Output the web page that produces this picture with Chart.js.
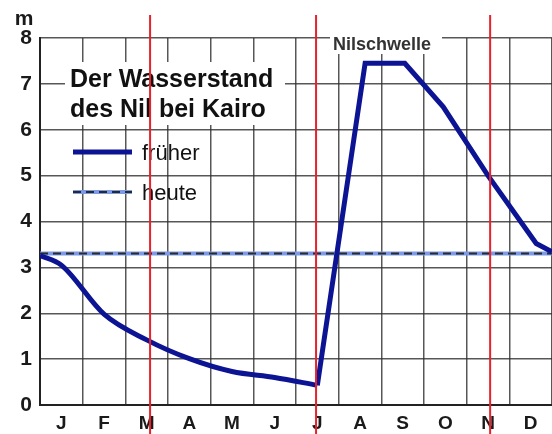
<!DOCTYPE html>
<html>
<head>
<meta charset="utf-8">
<script src="https://cdn.jsdelivr.net/npm/chart.js@4"></script>
<style>
  html, body { margin: 0; padding: 0; background: #fff; }
  #wrap { width: 552px; height: 434px; }
</style>
</head>
<body>
<div id="wrap"><canvas id="nilChart"></canvas></div>
<script>
const months = ['J', 'F', 'M', 'A', 'M', 'J', 'J', 'A', 'S', 'O', 'N', 'D'];
// x in months (0 = start of January, 12 = end of December), y in metres
// früher: falling water, smooth curve
const earlyX = [0, 0.5, 1.5, 2.5, 3.5, 4.5, 5.5, 6.5];
const earlyY = [3.26, 3.05, 1.98, 1.42, 1.01, 0.73, 0.6, 0.43];
// früher: Nilschwelle, straight segments
const floodX = [6.5, 7.62, 8.55, 9.45, 10.5, 11.63, 12];
const floodY = [0.43, 7.45, 7.45, 6.5, 5.0, 3.52, 3.34];
// heute
const todayX = [0, 12];
const todayY = [3.3, 3.3];
// red marker lines drawn over the picture
const redMarks = [2.58, 6.47, 10.55];

const oldBlue = '#0c1494';
const newBlue = '#7d9ae6';
const gridCol = 'rgba(45,45,45,0.8)';
const font = '"Liberation Sans", Arial, Helvetica, sans-serif';

const pts = (xs, ys) => xs.map((v, i) => ({ x: v, y: ys[i] }));

const overlay = {
  id: 'overlay',
  beforeDatasetsDraw(chart) {
    const ctx = chart.ctx;
    ctx.save();
    // white boxes behind the texts
    ctx.fillStyle = '#fff';
    ctx.fillRect(65, 62, 220, 63);
    ctx.fillRect(330, 28, 112, 26);

    ctx.fillStyle = '#111';
    ctx.textBaseline = 'alphabetic';
    ctx.textAlign = 'left';
    ctx.font = 'bold 25px ' + font;
    ctx.fillText('Der Wasserstand', 70, 87);
    ctx.fillText('des Nil bei Kairo', 70, 117);

    // legend
    ctx.lineCap = 'butt';
    ctx.strokeStyle = oldBlue;
    ctx.lineWidth = 5;
    ctx.beginPath(); ctx.moveTo(73, 152); ctx.lineTo(132, 152); ctx.stroke();
    ctx.strokeStyle = newBlue;
    ctx.lineWidth = 4;
    ctx.beginPath(); ctx.moveTo(73, 192); ctx.lineTo(132, 192); ctx.stroke();
    ctx.strokeStyle = '#2a2a2a';
    ctx.lineWidth = 2;
    ctx.setLineDash([8, 5]);
    ctx.beginPath(); ctx.moveTo(73, 192); ctx.lineTo(132, 192); ctx.stroke();
    ctx.setLineDash([]);

    ctx.font = '22px ' + font;
    ctx.fillText('früher', 142, 160);
    ctx.fillText('heute', 142, 200);

    ctx.fillStyle = '#333';
    ctx.font = 'bold 18px ' + font;
    ctx.fillText('Nilschwelle', 333, 50);
    ctx.restore();
  },
  afterDraw(chart) {
    const { ctx, scales: { x } } = chart;
    ctx.save();
    ctx.fillStyle = '#1a1a1a';
    ctx.font = 'bold 21px ' + font;
    ctx.textAlign = 'center';
    ctx.fillText('m', 24, 25);
    ctx.strokeStyle = '#e8222a';
    ctx.lineWidth = 2;
    redMarks.forEach(m => {
      const px = x.getPixelForValue(m);
      ctx.beginPath(); ctx.moveTo(px, 15); ctx.lineTo(px, 434); ctx.stroke();
    });
    ctx.restore();
  }
};

new Chart(document.getElementById('nilChart').getContext('2d'), {
  type: 'line',
  data: {
    datasets: [
      { label: 'früher', data: pts(earlyX, earlyY), borderColor: oldBlue, borderWidth: 5,
        cubicInterpolationMode: 'monotone', pointRadius: 0 },
      { label: 'früher', data: pts(floodX, floodY), borderColor: oldBlue, borderWidth: 5,
        tension: 0, pointRadius: 0 },
      { label: 'heute', data: pts(todayX, todayY), borderColor: '#2a2a2a', borderWidth: 2,
        borderDash: [8, 5], pointRadius: 0 },
      { label: 'heute', data: pts(todayX, todayY), borderColor: newBlue, borderWidth: 4,
        pointRadius: 0 }
    ]
  },
  options: {
    responsive: true,
    maintainAspectRatio: false,
    animation: false,
    layout: { padding: { top: 38, right: 0, left: 0, bottom: 0 } },
    plugins: { legend: { display: false }, tooltip: { enabled: false } },
    scales: {
      x: {
        type: 'linear', min: 0, max: 12,
        afterBuildTicks: axis => {
          axis.ticks = months.flatMap((m, i) => [{ value: i }, { value: i + 0.5 }]).concat({ value: 12 });
        },
        afterFit: scale => {
          scale.height = 29;
          scale.paddingLeft = 0;
          scale.paddingRight = 0;
        },
        ticks: {
          autoSkip: false, maxRotation: 0, minRotation: 0, padding: 7,
          color: '#1a1a1a', font: { family: font, size: 19, weight: 'bold' },
          callback: v => Number.isInteger(v) ? '' : months[Math.floor(v)]
        },
        grid: {
          drawTicks: false, lineWidth: 1.5,
          color: c => (c.tick && Number.isInteger(c.tick.value)) ? gridCol : 'rgba(0,0,0,0)'
        },
        border: { color: '#222', width: 2 }
      },
      y: {
        min: 0, max: 8,
        afterFit: scale => { scale.width = 40; },
        ticks: {
          stepSize: 1, padding: 8,
          color: '#1a1a1a', font: { family: font, size: 21, weight: 'bold' }
        },
        grid: { drawTicks: false, lineWidth: 1.5, color: gridCol },
        border: { color: '#222', width: 2 }
      }
    }
  },
  plugins: [overlay]
});
</script>
</body>
</html>
